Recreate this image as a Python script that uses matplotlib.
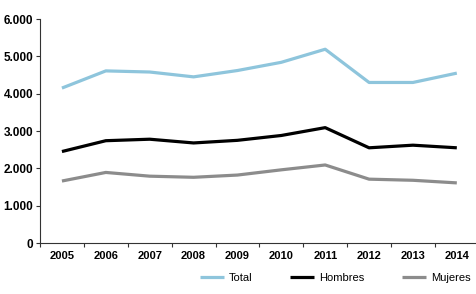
import numpy as np
import matplotlib.pyplot as plt
from matplotlib.ticker import FuncFormatter

plt.rcParams['font.family'] = ['Liberation Sans Narrow', 'Liberation Sans', 'DejaVu Sans']

years = ['2005', '2006', '2007', '2008', '2009', '2010', '2011', '2012', '2013', '2014']
total = [4150, 4610, 4580, 4450, 4620, 4840, 5190, 4300, 4300, 4550]
hombres = [2450, 2740, 2780, 2680, 2750, 2880, 3090, 2550, 2620, 2550]
mujeres = [1660, 1890, 1790, 1760, 1820, 1960, 2090, 1710, 1680, 1610]

fig = plt.figure(figsize=(4.77, 2.94), dpi=100)
ax = fig.add_axes([40/477, 1 - 243/294, 437/477, 224/294])

x = np.arange(len(years))
ax.plot(x, total, color='#8ec5dc', lw=2.3, label='Total', solid_capstyle='butt')
ax.plot(x, hombres, color='black', lw=2.3, label='Hombres', solid_capstyle='butt')
ax.plot(x, mujeres, color='#8c8c8c', lw=2.3, label='Mujeres', solid_capstyle='butt')

ax.set_xlim(-0.45, 9.46)
ax.set_ylim(0, 6000)
ax.set_yticks(np.arange(0, 6001, 1000))
ax.yaxis.set_major_formatter(FuncFormatter(lambda v, p: f'{int(v):,}'.replace(',', '.')))
ax.set_xticks(np.arange(-0.5, 9.5, 1))
ax.set_xticklabels([])
ax.set_xticks(x, minor=True)
ax.set_xticklabels(years, minor=True)
ax.tick_params(axis='x', which='minor', length=0, pad=6)
ax.tick_params(axis='x', which='major', length=3, width=0.8, color='#333333')
ax.tick_params(axis='y', length=3, width=0.8, color='#333333', pad=2)
for lab in ax.get_xticklabels(minor=True):
    lab.set_fontweight('bold')
    lab.set_fontsize(8)
for lab in ax.get_yticklabels():
    lab.set_fontweight('bold')
    lab.set_fontsize(8.5)
ax.spines['top'].set_visible(False)
ax.spines['right'].set_visible(False)
ax.spines['left'].set_color('#333333')
ax.spines['bottom'].set_color('#333333')

fig.legend(loc='center', bbox_to_anchor=(335/477, 1 - 278/294), ncol=3, frameon=False,
           fontsize=8, handlelength=2.2, columnspacing=3.4, handletextpad=0.4)

plt.savefig('out.png', dpi=100)
